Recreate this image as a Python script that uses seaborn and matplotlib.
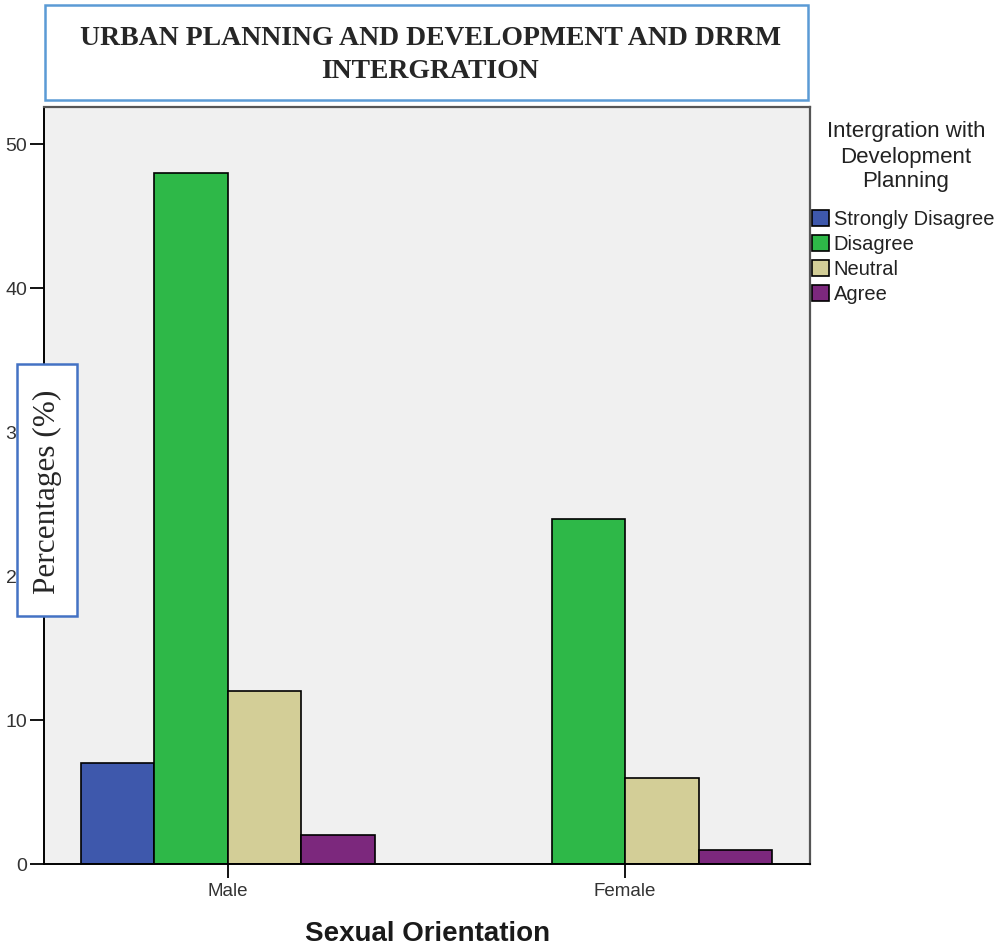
import pandas as pd
import seaborn as sns
import matplotlib.pyplot as plt
from matplotlib.patches import Rectangle

# values (percent)
genders = ['Male', 'Female']
responses = ['Strongly Disagree', 'Disagree', 'Neutral', 'Agree']
male_pct = [7, 48, 12, 2]
female_pct = [0, 24, 6, 1]

colors = {'Strongly Disagree': '#3e58ac', 'Disagree': '#2eb848',
          'Neutral': '#d3ce97', 'Agree': '#7c287d'}

rows = []
for g, vals in zip(genders, [male_pct, female_pct]):
    for r, v in zip(responses, vals):
        rows.append({'Sexual Orientation': g, 'Response': r, 'Percent': v})
df = pd.DataFrame(rows)

sns.set_style('white')
plt.rcParams['font.family'] = ['Liberation Sans', 'DejaVu Sans']

fig = plt.figure(figsize=(10.08, 9.48), dpi=100)
ax = fig.add_axes([0.0437, 0.0886, 0.760, 0.7985])
ax.set_facecolor('#f0f0f0')

sns.barplot(data=df, x='Sexual Orientation', y='Percent', hue='Response',
            hue_order=responses, order=genders, palette=colors, width=0.74,
            edgecolor='black', linewidth=1.2, saturation=1, ax=ax)

ax.set_xlim(-0.463, 1.466)
ax.set_ylim(0, 52.6)
ax.set_yticks([0, 10, 20, 30, 40, 50])
ax.tick_params(axis='y', direction='out', length=10, width=1.3, color='black',
               labelsize=14, labelcolor='#333333', pad=2, left=True)
ax.tick_params(axis='x', direction='out', length=10, width=1.3, color='black',
               labelsize=13.5, labelcolor='#333333', pad=4, bottom=True)
ax.set_ylabel('')
ax.set_xlabel('Sexual Orientation', fontsize=20, fontweight='bold',
              color='#1a1a1a', labelpad=15)
for s in ['left', 'bottom']:
    ax.spines[s].set_color('black')
    ax.spines[s].set_linewidth(1.4)
for s in ['top', 'right']:
    ax.spines[s].set_color('#555555')
    ax.spines[s].set_linewidth(1.6)

# legend title drawn separately so its spacing can follow the reference
fig.text(906 / 1008, 1 - 157 / 948, 'Intergration with\nDevelopment\nPlanning',
         ha='center', va='center', fontsize=16, color='#222222',
         multialignment='center', linespacing=1.25)

handles, labels = ax.get_legend_handles_labels()
leg = ax.legend(handles, labels, loc='upper left',
                bbox_to_anchor=(1.003, (864 - 210) / 757), frameon=False,
                fontsize=14.5, handlelength=0.8, handleheight=0.8,
                handletextpad=0.25, labelspacing=0.3,
                borderaxespad=0, borderpad=0)
for t in leg.get_texts():
    t.set_color('#222222')

# title box
fig.patches.append(Rectangle((45 / 1008, 1 - 100 / 948), 763 / 1008, 95 / 948,
                             transform=fig.transFigure, facecolor='white',
                             edgecolor='#5b9bd5', linewidth=1.8, zorder=5))
fig.text(430 / 1008, 1 - 55 / 948,
         'URBAN PLANNING AND DEVELOPMENT AND DRRM\nINTERGRATION',
         ha='center', va='center', fontsize=20, fontweight='bold',
         family=['Liberation Serif', 'DejaVu Serif'], linespacing=1.4, zorder=6)

# y label box
fig.patches.append(Rectangle((17 / 1008, 1 - 616 / 948), 60 / 1008, 252 / 948,
                             transform=fig.transFigure, facecolor='white',
                             edgecolor='#4472c4', linewidth=1.8, zorder=5))
fig.text(47 / 1008, 1 - 492 / 948, 'Percentages (%)', rotation=90,
         ha='center', va='center', fontsize=22.5,
         family=['Liberation Serif', 'DejaVu Serif'], zorder=6)

plt.savefig('out.png', dpi=100)
